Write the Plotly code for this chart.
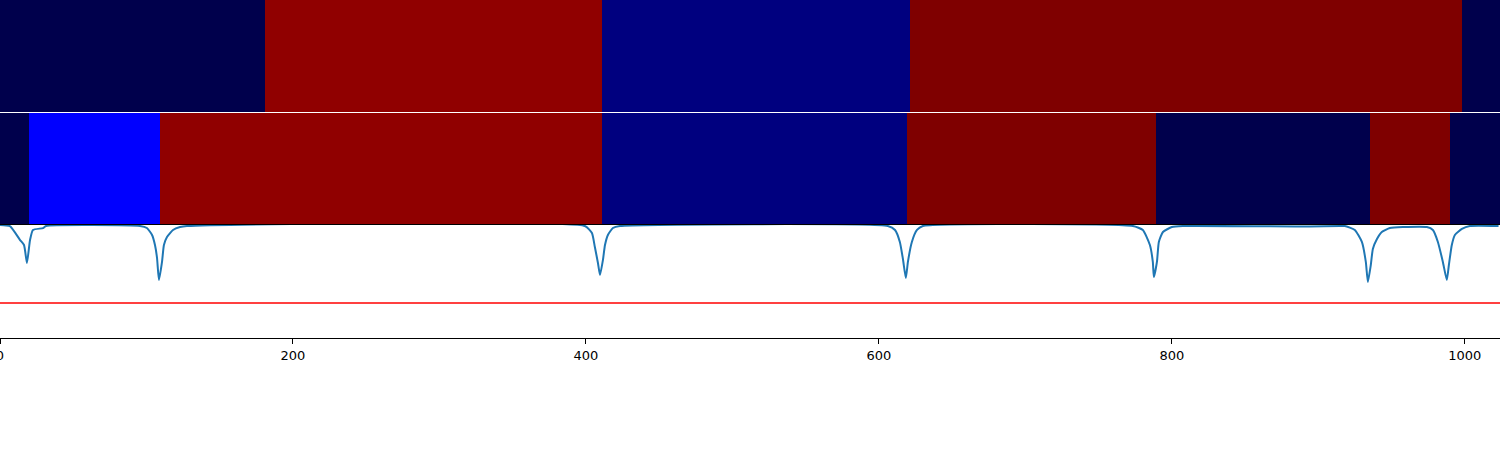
import plotly.graph_objects as go

# ---- data ----
top_edges = [0, 180.9, 410.9, 621.2, 998.0, 1024]
top_labels = [0.0, 0.966, 0.071, 1.0, 0.0]

mid_edges = [0, 19.8, 109.2, 410.9, 619.1, 789.1, 935.2, 989.8, 1024]
mid_labels = [0.0, 0.25, 0.966, 0.071, 1.0, 0.0, 1.0, 0.0]

signal_x = [0, 6.8, 13.7, 16.4, 18.4, 20.5, 22.5, 29.4, 31.4,
            95.6, 100.3, 103.8, 105.8, 107.2, 108.5, 110.6, 111.9, 114.0, 118.1, 122.9, 127.6,
            399.3, 404.1, 406.1, 408.2, 409.6, 411.6, 413.0, 415.0, 418.4, 423.2,
            606.1, 611.0, 614.3, 616.4, 618.4, 619.8, 622.5, 626.0, 630.0,
            773.4, 780.2, 785.0, 787.0, 787.7, 789.8, 791.1, 793.9, 800.0, 807.5, 894.2, 914.7,
            918.1, 924.9, 929.7, 932.4, 933.8, 935.8, 937.2, 940.0, 943.3, 948.8, 957.7, 974.1,
            978.2, 981.6, 985.0, 987.7, 989.1, 991.1, 993.2, 998.0, 1003.4, 1023]
signal_y = [1.0, 0.99, 0.867, 0.823, 0.664, 0.867, 0.956, 0.973, 0.991,
            0.991, 0.973, 0.912, 0.823, 0.708, 0.513, 0.673, 0.823, 0.894, 0.956, 0.982, 0.991,
            0.991, 0.929, 0.805, 0.664, 0.558, 0.690, 0.823, 0.912, 0.973, 0.991,
            0.991, 0.956, 0.850, 0.699, 0.531, 0.673, 0.850, 0.956, 0.991,
            0.991, 0.956, 0.823, 0.673, 0.540, 0.673, 0.850, 0.938, 0.982, 0.991, 0.987, 0.991,
            0.991, 0.956, 0.850, 0.673, 0.496, 0.646, 0.788, 0.876, 0.938, 0.973, 0.982, 0.982,
            0.956, 0.850, 0.673, 0.513, 0.646, 0.823, 0.912, 0.965, 0.991, 0.991]
threshold = 0.31
x_max = 1024
x_ticks = [0, 200, 400, 600, 800, 1000]

seismic = [[0.0, '#00004c'], [0.25, '#0000ff'], [0.5, '#ffffff'],
           [0.75, '#ff0000'], [1.0, '#7f0000']]

fig = go.Figure()
fig.add_trace(go.Heatmap(z=[top_labels], x=top_edges, y=[0, 1], colorscale=seismic,
                         zmin=0, zmax=1, showscale=False, xaxis='x', yaxis='y'))
fig.add_trace(go.Heatmap(z=[mid_labels], x=mid_edges, y=[0, 1], colorscale=seismic,
                         zmin=0, zmax=1, showscale=False, xaxis='x2', yaxis='y2'))
fig.add_trace(go.Scatter(x=signal_x, y=signal_y, mode='lines',
                         line=dict(color='#1f77b4', width=2, shape='spline', smoothing=0.5),
                         xaxis='x3', yaxis='y3', showlegend=False))
fig.add_trace(go.Scatter(x=[0, x_max], y=[threshold, threshold], mode='lines',
                         line=dict(color='red', width=1.5),
                         xaxis='x3', yaxis='y3', showlegend=False))

H = 338.0
hidden = dict(showticklabels=False, ticks='', showgrid=False, zeroline=False,
              showline=False, automargin=False)
fig.update_layout(
    width=1500, height=450,
    margin=dict(l=0, r=0, t=0, b=112, autoexpand=False),
    paper_bgcolor='white', plot_bgcolor='white',
    font=dict(family='DejaVu Sans', size=13, color='black'),
    showlegend=False,
    xaxis=dict(domain=[0, 1], range=[0, x_max], anchor='y', **hidden),
    yaxis=dict(domain=[226 / H, 1], range=[0, 1], anchor='x', **hidden),
    xaxis2=dict(domain=[0, 1], range=[0, x_max], anchor='y2', **hidden),
    yaxis2=dict(domain=[113 / H, 225 / H], range=[0, 1], anchor='x2', **hidden),
    xaxis3=dict(domain=[0, 1], range=[0, x_max], anchor='y3', tickvals=x_ticks,
                ticks='outside', ticklen=5, tickcolor='black', showline=True,
                ticklabeloverflow='allow', automargin=False,
                linecolor='black', linewidth=1, mirror=True, showgrid=False, zeroline=False),
    yaxis3=dict(domain=[0, 113 / H], range=[0, 1], anchor='x3', showticklabels=False,
                ticks='', showline=True, linecolor='black', linewidth=1, mirror=True,
                showgrid=False, zeroline=False, automargin=False),
)

fig.write_html("out.html", config={'displayModeBar': False},
               post_script="document.body.style.margin='0';document.body.style.padding='0';")
